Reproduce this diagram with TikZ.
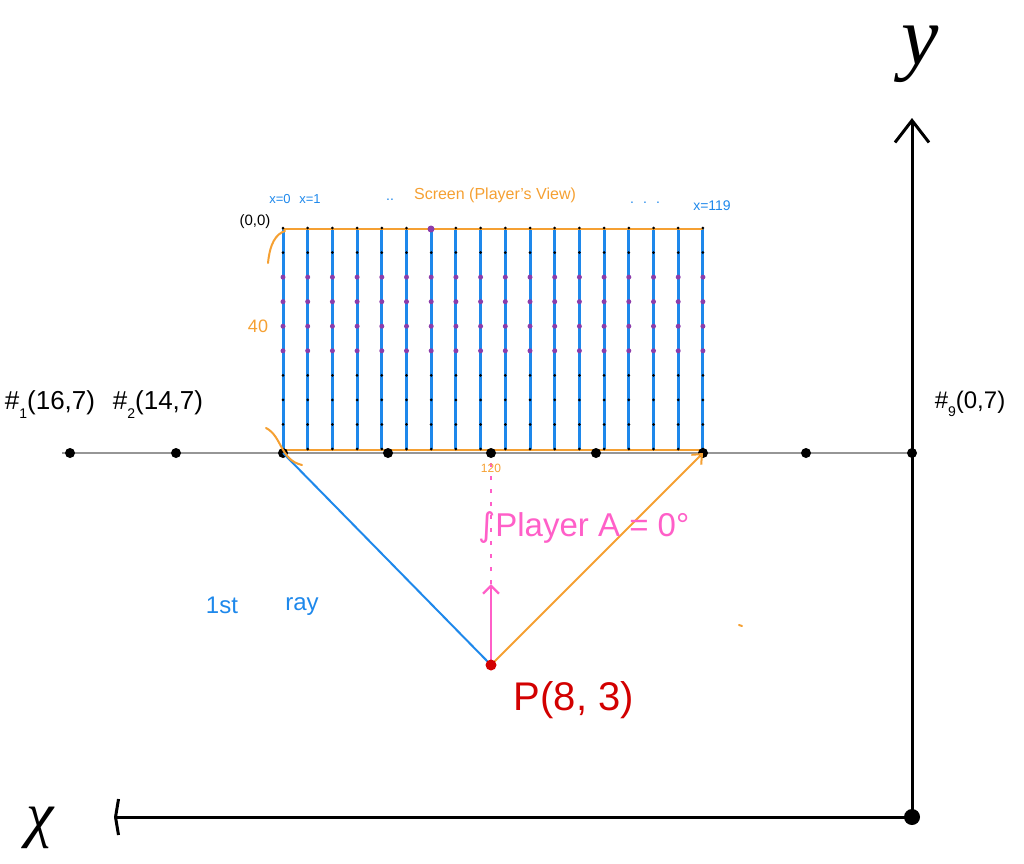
\documentclass[tikz,border=0pt]{standalone}
\usepackage{fontspec}
\setmainfont{Liberation Sans}
\newfontfamily\serifit{Liberation Serif}
\newfontfamily\dejavu{DejaVu Sans}
\usetikzlibrary{arrows.meta}
\definecolor{rblue}{RGB}{30,136,235}
\definecolor{rorange}{RGB}{245,160,50}
\definecolor{rpink}{RGB}{255,95,200}
\definecolor{rred}{RGB}{210,0,0}
\definecolor{rpurple}{RGB}{140,60,170}
\definecolor{rgray}{RGB}{150,150,150}
\newcommand{\subsc}[1]{\raisebox{-0.35em}{\fontsize{14}{14}\selectfont #1}}
\begin{document}
\begin{tikzpicture}[x=1pt,y=-1pt,
  axis/.style={line width=3pt,black},
  col/.style={line width=3pt,rblue},
  edge/.style={line width=2pt,rorange},
  bdot/.style={circle,fill=black,inner sep=0pt,minimum size=3pt},
  pdot/.style={circle,fill=rpurple,inner sep=0pt,minimum size=5pt},
  bigdot/.style={circle,fill=black,inner sep=0pt,minimum size=10pt},
  lbl/.style={inner sep=0pt}]
\useasboundingbox (0,0) rectangle (1024,863);
% axes
\coordinate (O) at (912,817);
\coordinate (Ytop) at (912,118);
\coordinate (Xend) at (114,817);
\draw[axis,-{Straight Barb[length=22pt,width=34pt,line width=3pt]}] (O) -- (Ytop);
\draw[axis,-{Straight Barb[length=3pt,width=36pt,line width=3pt]}] (O) -- (Xend);
\node[circle,fill=black,inner sep=0pt,minimum size=16pt] (On) at (O) {};
\node[lbl,anchor=base] (ylab) at (920,64) {\fontsize{84}{84}\selectfont\serifit\itshape y};
\node[lbl] (xlab) at (40,828) {\fontsize{62}{62}\selectfont\serifit\itshape χ};
% gray line y=7
\coordinate (L) at (62,453);
\coordinate (R) at (912,453);
\draw[line width=2pt,rgray] (L) -- (R);
% screen
\coordinate (TL) at (283,229);
\coordinate (TR) at (703,229);
\coordinate (BL) at (283,450);
\coordinate (BR) at (703,450);
\foreach \i in {0,...,17}{
  \pgfmathsetmacro{\xx}{283+\i*24.7}
  \draw[col] (\xx,229) -- (\xx,451);
}
\draw[edge] (TL) -- (TR);
\draw[edge] (BL) -- (BR);
\foreach \i in {0,...,17}{
  \pgfmathsetmacro{\xx}{283+\i*24.7}
  \foreach \j in {0,1,6,7,8,9}{
    \pgfmathsetmacro{\yy}{228+\j*24.56}
    \node[bdot] at (\xx,\yy) {};
  }
  \foreach \j in {2,...,5}{
    \pgfmathsetmacro{\yy}{228+\j*24.56}
    \node[pdot] at (\xx,\yy) {};
  }
}
\node[circle,fill=rpurple,inner sep=0pt,minimum size=7pt] at (431,229) {};
% points on y=7
\foreach \xx/\nm in {70/a,176/b,283/c,388/d,491/e,596/f,703/g,806/h,912/k}{
  \node[bigdot] (pt\nm) at (\xx,453) {};
}
% rays
\coordinate (P) at (491,665);
\draw[line width=2pt,rblue] (P) -- (ptc.center);
\draw[line width=2pt,rorange,-{Straight Barb[length=8pt,width=14pt,line width=2pt]}] (P) -- (ptg.center);
\coordinate (Ptip) at (491,584);
\coordinate (Dtop) at (491,462);
\draw[line width=2.4pt,rpink,dash pattern=on 4pt off 9pt] (Ptip) -- (Dtop);
\draw[line width=2.6pt,rpink,-{Straight Barb[length=8pt,width=16pt,line width=2.4pt]}] (P) -- (Ptip);
\node[circle,fill=rred,inner sep=0pt,minimum size=11pt] (Pn) at (P) {};
% orange marks
\draw[edge,line cap=round] (268,263) .. controls (270,243) and (276,234) .. (285,231);
\draw[edge,line cap=round] (266,428) .. controls (282,436) and (280,460) .. (302,465);
\draw[edge,line cap=round] (739,625) -- (742,626);
% labels
\node[lbl,text=rblue] (x0) at (280,199) {\fontsize{13}{13}\selectfont x=0};
\node[lbl,text=rblue] (x1) at (310,199) {\fontsize{13}{13}\selectfont x=1};
\node[lbl,text=rblue] (dd1) at (390,200) {\fontsize{14}{14}\selectfont ..};
\node[lbl,text=rorange] (scr) at (495,195) {\fontsize{16}{16}\selectfont Screen (Player's View)};
\node[lbl,text=rblue] (dd2) at (645,203) {\fontsize{14}{14}\selectfont . \ . \ .};
\node[lbl,text=rblue] (x119) at (712,206) {\fontsize{14}{14}\selectfont x=119};
\node[lbl] (orig) at (255,222) {\fontsize{15}{15}\selectfont (0,0)};
\node[lbl,text=rorange] (forty) at (258,326) {\fontsize{18}{18}\selectfont 40};
\node[lbl,text=rorange] (o120) at (491,468) {\fontsize{12}{12}\selectfont 120};
\node[lbl] (n1) at (50,405) {\fontsize{26}{26}\selectfont\#\subsc{1}(16,7)};
\node[lbl] (n2) at (158,405) {\fontsize{26}{26}\selectfont\#\subsc{2}(14,7)};
\node[lbl] (n9) at (970,404) {\fontsize{24}{24}\selectfont\#\subsc{9}(0,7)};
\node[lbl,text=rpink,anchor=west] (pa) at (478,528) {\fontsize{33}{33}\selectfont{\dejavu ∫}Player A = 0°};
\node[lbl,text=rblue] (st) at (222,605) {\fontsize{24}{24}\selectfont 1st};
\node[lbl,text=rblue] (ray) at (302,607) {\fontsize{24}{24}\selectfont ray};
\node[lbl,text=rred] (pl) at (574,700) {\fontsize{40}{40}\selectfont P(8, 3)};
\end{tikzpicture}
\end{document}
